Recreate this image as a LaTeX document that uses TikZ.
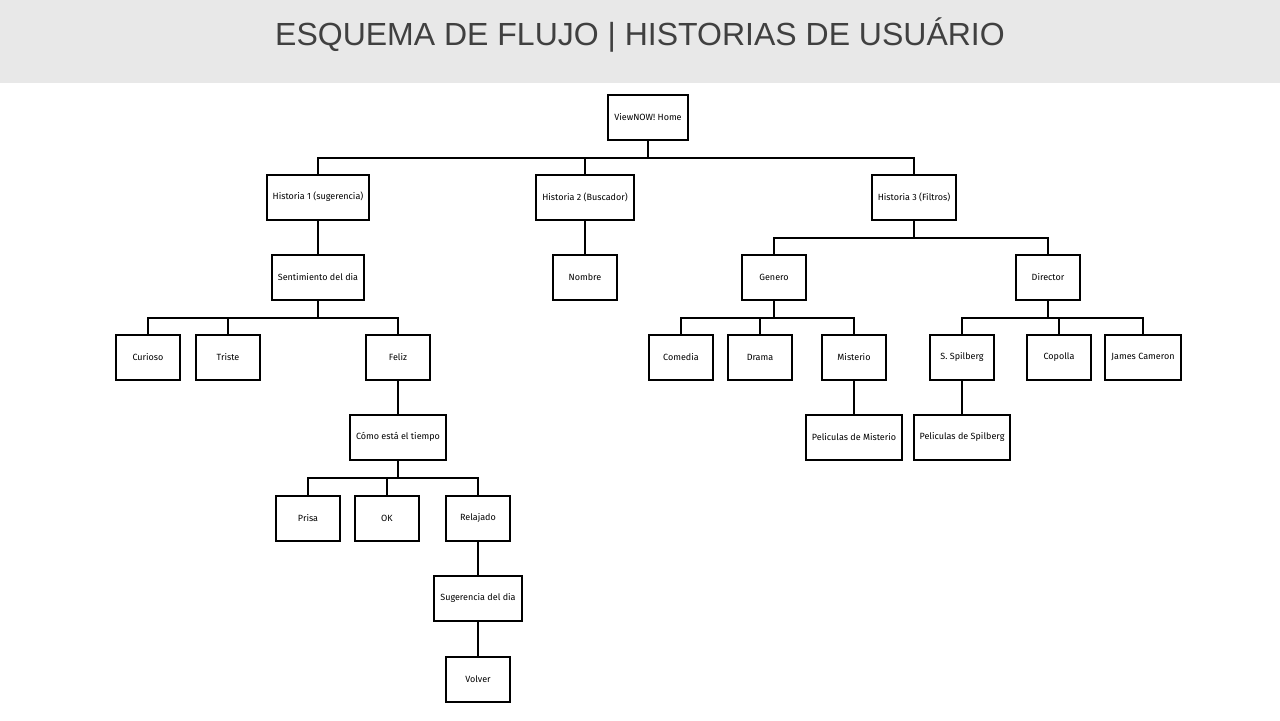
\documentclass[tikz,border=0pt]{standalone}
\usepackage{fontspec}
\setmainfont{Liberation Sans}
\newfontfamily\boxfont{Fira Sans}
\usetikzlibrary{positioning, calc}
\definecolor{bandgray}{RGB}{232,232,232}
\definecolor{titlegray}{RGB}{64,64,64}

\begin{document}
\begin{tikzpicture}[
  x=0.5pt, y=-0.5pt,
  story/.style={draw, line width=1pt, fill=white, minimum width=32pt, minimum height=22.5pt,
    inner xsep=3pt, align=center, font=\boxfont\fontsize{4.5}{5.5}\selectfont},
  link/.style={line width=0.7pt, color=black}
]
\useasboundingbox (0,0) rectangle (1280,720);

% Title band
\fill[bandgray] (0,0) rectangle (1280,83);
\node[text=titlegray, font=\fontsize{16}{19}\selectfont] (title) at (640,35) {ESQUEMA DE FLUJO | HISTORIAS DE USUÁRIO};

% Nodes
\node[story] (home) at (648,117) {ViewNOW! Home};
\node[story] (h1) at (318,197) {Historia 1 (sugerencia)};
\node[story] (h2) at (585,197) {Historia 2 (Buscador)};
\node[story] (h3) at (914,197) {Historia 3 (Filtros)};
\node[story] (sent) at (318,277) {Sentimiento del dia};
\node[story] (nombre) at (585,277) {Nombre};
\node[story] (genero) at (774,277) {Genero};
\node[story] (director) at (1048,277) {Director};
\node[story] (curioso) at (148,357) {Curioso};
\node[story] (triste) at (228,357) {Triste};
\node[story] (feliz) at (398,357) {Feliz};
\node[story] (comedia) at (681,357) {Comedia};
\node[story] (drama) at (760,357) {Drama};
\node[story] (misterio) at (854,357) {Misterio};
\node[story] (spilberg) at (962,357) {S. Spilberg};
\node[story] (copolla) at (1059,357) {Copolla};
\node[story] (cameron) at (1143,357) {James Cameron};
\node[story] (tiempo) at (398,437) {Cómo está el tiempo};
\node[story] (pelmist) at (854,437) {Peliculas de Misterio};
\node[story] (pelspil) at (962,437) {Peliculas de Spilberg};
\node[story] (prisa) at (308,518) {Prisa};
\node[story] (ok) at (387,518) {OK};
\node[story] (relajado) at (478,518) {Relajado};
\node[story] (sugerencia) at (478,598) {Sugerencia del dia};
\node[story] (volver) at (478,679) {Volver};

% Connectors
\foreach \parent/\children in {home/{h1,h2,h3}, h1/{sent}, h2/{nombre}, h3/{genero,director},
    sent/{curioso,triste,feliz}, genero/{comedia,drama,misterio}, director/{spilberg,copolla,cameron},
    feliz/{tiempo}, misterio/{pelmist}, spilberg/{pelspil}, tiempo/{prisa,ok,relajado},
    relajado/{sugerencia}, sugerencia/{volver}}
  \foreach \child in \children
    \draw[link] (\parent.south) -- +(0,17.5) -| (\child.north);

\end{tikzpicture}
\end{document}
